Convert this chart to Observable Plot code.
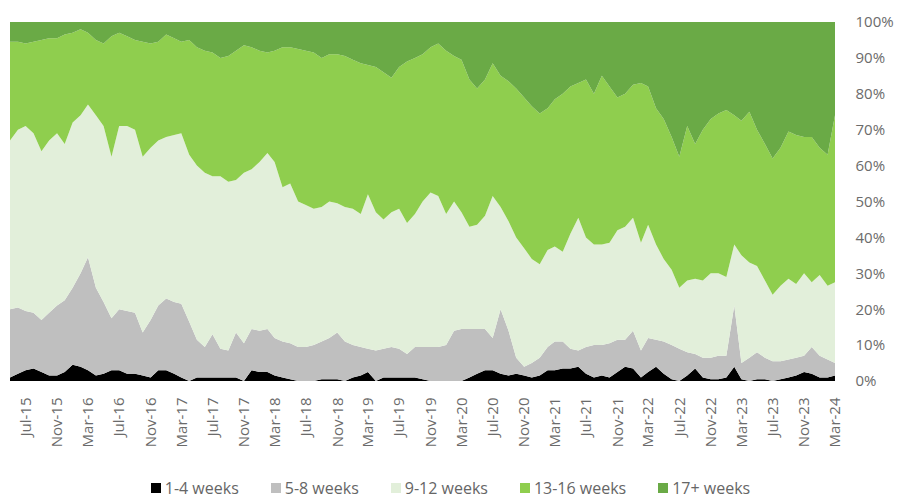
<!DOCTYPE html>
<html><head><meta charset="utf-8">
<script src="https://cdn.jsdelivr.net/npm/d3@7"></script>
<script src="https://cdn.jsdelivr.net/npm/@observablehq/plot@0.6"></script>
<style>
body{margin:0;background:#fff;font-family:"Open Sans",sans-serif;}
#legend{display:flex;justify-content:center;gap:32px;font-size:16px;color:#666;line-height:22px;height:24px;}
.item{display:flex;align-items:center;gap:4px}
.sw{width:10px;height:10px;display:inline-block}
</style></head><body><div id="chart"></div><div id="legend"></div>
<script>
// Months: May-15 .. Mar-24
const firstMonth = "2015-05";
const lastMonth = "2024-03";
const tickLabels = ["Jul-15","Nov-15","Mar-16","Jul-16","Nov-16","Mar-17","Jul-17","Nov-17","Mar-18","Jul-18","Nov-18","Mar-19","Jul-19","Nov-19","Mar-20","Jul-20","Nov-20","Mar-21","Jul-21","Nov-21","Mar-22","Jul-22","Nov-22","Mar-23","Jul-23","Nov-23","Mar-24"];
const seriesNames = ["1-4 weeks","5-8 weeks","9-12 weeks","13-16 weeks","17+ weeks"];
const seriesColors = ["#000000","#bfbfbf","#e2efda","#8fce4e","#6aaa46"];
const yTicks = [0,10,20,30,40,50,60,70,80,90,100];

// Percent share of each series per month
const weeks1_4 = [1,2,3,3.5,2.5,1.5,1.5,2.5,4.5,4,
 3,1.5,2,3,3,2,2,1.5,1,3,
 3,2,1,0,1,1,1,1,1,1,
 0,3,2.5,2.5,1.5,1,0.5,0,0,0,
 0.5,0.5,0.5,0,1,1.5,2.5,0,1,1,
 1,1,1,0.5,0,0,0,0,0,1,
 2,3,3,2,1.5,2,1.5,1,1.5,3,
 3,3.5,3.5,4,2,1,1.5,1,2.5,4,
 3.5,1,2.5,4,2,0.5,0,1.5,3.5,1,
 0.5,0.5,1,4,0.5,0,0.5,0.5,0,0.5,
 1,1.5,2.5,2,1,1,1.5];
const weeks5_8 = [19,18.5,16.5,15.5,14.5,17.5,19.5,20,21.5,26,
 31.5,24.5,20,14.5,17,17.5,17,12,16,18,
 20,20,20.5,16.5,10.5,8.5,12,8,7.5,12.5,
 10.5,11.5,11.5,12,10.5,10,10,9.5,9.5,10,
 10.5,11.5,13,11,9,8,6.5,8.5,8,8.5,
 8,6.5,8.5,9,9.5,9.5,10,14,14.5,13.5,
 12.5,11.5,9,18,12.5,4.5,2.5,4,5,6.5,
 8,7.5,5.5,4.5,7.5,9,8.5,9.5,9,7.5,
 10.5,7.5,9.5,7.5,9,9.5,9,6.5,4,5.5,
 6,6.5,6,17,4.5,6.5,7.5,6,5.5,5,
 5,5,4.5,7.5,6,5,3.5];
const weeks9_12 = [47,49.5,51.5,50,47,48,48,43.5,46,44,
 42.5,48,49,45,51,51.5,51,49,48,46,
 45,46.5,47.5,46.5,48.5,48.5,44,48,47,42.5,
 47.5,44.5,47,49,49,43,44.5,40.5,39.5,38,
 37.5,38,36,37.5,38,37,43,38.5,36,37.5,
 39,36.5,37,40.5,43,42,36.5,36,32.5,28.5,
 29,31.5,39.5,28.5,30.5,33.5,33,29,26,27,
 26.5,25,32,37,30.5,28,28,28,30.5,31.5,
 31.5,30,31.5,26.5,23,21,17,20,21,21.5,
 23.5,23,22,17,30,26.5,24,21.5,18.5,21,
 22.5,20.5,23,18,22.5,20.5,22.5];
const weeks13_16 = [27.5,24.5,23,25.5,31,28.5,26.5,30.5,25,24,
 20,21,23,33.5,26,25,25,32,29,27.5,
 28.5,27,25.5,32,33,34,34.5,33,35,36,
 35.5,34,31,28,31,39,38,42.5,43,43.5,
 41.5,41,41.5,42,41.5,42,36,40.5,41,37.5,
 39.5,45,43.5,41,40.5,42.5,45.5,40.5,42.5,41,
 38,38,37,36.5,39,41.5,42,42.5,42,39.5,
 41,44,41,37.5,44,42,47,43.5,37,37,
 37,44.5,38.5,38,39,37,36.5,43,37.5,42,
 43,44.5,46.5,36,37.5,42,38,38,38,38.5,
 41,41.5,38,40.5,35.5,36.5,46.5];
const weeks17plus = [5.5,5.5,6,5.5,5,4.5,4.5,3.5,3,2,
 3,5,6,4,3,4,5,5.5,6,5.5,
 3.5,4.5,5.5,5,7,8,8.5,10,9.5,8,
 6.5,7,8,8.5,8,7,7,7.5,8,8.5,
 10,9,9,9.5,10.5,11.5,12,12.5,14,15.5,
 12.5,11,10,9,7,6,8,9.5,10.5,16,
 18.5,16,11.5,15,16.5,18.5,21,23.5,25.5,24,
 21.5,20,18,17,16,20,15,18,21,20,
 17.5,17,18,24,27,32,37.5,29,34,30,
 27,25.5,24.5,26,27.5,25,30,34,38,35,
 30.5,31.5,32,32,35,37,26];

const seriesValues = [weeks1_4, weeks5_8, weeks9_12, weeks13_16, weeks17plus];
const parseMonth = d3.utcParse("%Y-%m");
const start = parseMonth(firstMonth), end = parseMonth(lastMonth);
const months = d3.utcMonth.range(start, d3.utcMonth.offset(end, 1));
const tickDates = tickLabels.map(d3.utcParse("%b-%y"));

const table = [];
seriesNames.forEach((name, k) => {
  months.forEach((date, i) => table.push({date, series: name, value: seriesValues[k][i]}));
});

const chart = Plot.plot({
  width: 901, height: 476,
  marginLeft: 10, marginRight: 66, marginTop: 22, marginBottom: 95,
  x: {type: "utc", domain: [start, end], label: null},
  y: {domain: [0, 100], label: null},
  color: {domain: seriesNames, range: seriesColors},
  style: {fontFamily: "Open Sans, sans-serif", fontSize: "15px", color: "#6b6b6b", background: "#fff"},
  marks: [
    Plot.areaY(table, {x: "date", y: "value", fill: "series", z: "series", order: seriesNames}),
    Plot.axisX({ticks: tickDates, tickFormat: d3.utcFormat("%b-%y"), tickRotate: -90, tickSize: 0, tickPadding: 16}),
    Plot.axisY({anchor: "right", ticks: yTicks, tickFormat: d => d + "%", tickSize: 0, tickPadding: 20})
  ]
});
document.getElementById("chart").append(chart);

const legend = document.getElementById("legend");
seriesNames.forEach((name, k) => {
  const item = document.createElement("span");
  item.className = "item";
  const sw = document.createElement("span");
  sw.className = "sw";
  sw.style.background = seriesColors[k];
  item.append(sw, document.createTextNode(name));
  legend.append(item);
});
</script></body></html>
